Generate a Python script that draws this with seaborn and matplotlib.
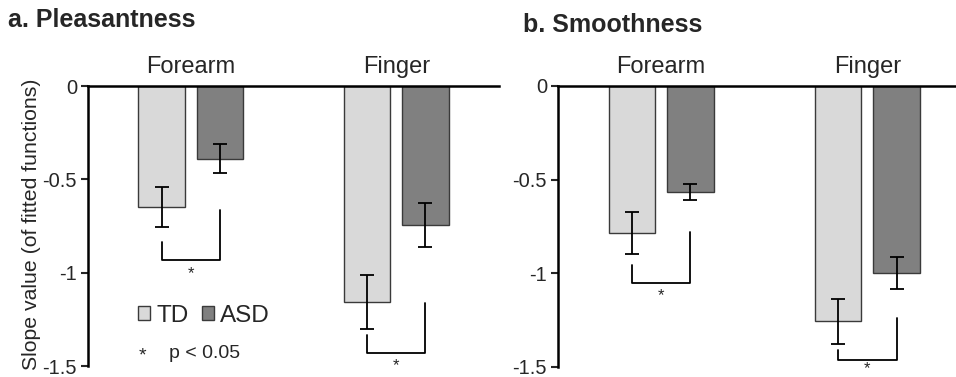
import numpy as np
import pandas as pd
import matplotlib
matplotlib.use("Agg")
import matplotlib.pyplot as plt
from matplotlib.patches import Patch
import seaborn as sns

sns.set_style("white")
plt.rcParams["font.family"] = ["Liberation Sans", "DejaVu Sans"]

# ---------------------------------------------------------------- data
regions = ["Forearm", "Finger"]
groups = ["TD", "ASD"]
colors = {"TD": "#d9d9d9", "ASD": "#808080"}

pleas_td = [-0.648, -1.157]
pleas_td_se = [0.105, 0.145]
pleas_asd = [-0.39, -0.745]
pleas_asd_se = [0.078, 0.117]

smooth_td = [-0.787, -1.257]
smooth_td_se = [0.112, 0.12]
smooth_asd = [-0.567, -1.0]
smooth_asd_se = [0.042, 0.085]

# significance brackets (left top, bottom, right top) and star, one per region
pleas_br_left = [-0.836, -1.334]
pleas_br_bottom = [-0.932, -1.43]
pleas_br_right = [-0.664, -1.162]
pleas_star = [-0.967, -1.46]

smooth_br_left = [-0.953, -1.409]
smooth_br_bottom = [-1.05, -1.462]
smooth_br_right = [-0.777, -1.237]
smooth_star = [-1.079, -1.466]

yticks = [0, -0.5, -1, -1.5]
ytick_labels = ["0", "-0.5", "-1", "-1.5"]


def make_df(td, td_se, asd, asd_se):
    return pd.DataFrame({
        "region": regions * 2,
        "group": ["TD"] * 2 + ["ASD"] * 2,
        "slope": td + asd,
        "se": td_se + asd_se,
    })


def draw_panel(ax, df, br_left, br_bottom, br_right, star_y):
    sns.barplot(data=df, x="region", y="slope", hue="group",
                order=regions, hue_order=groups, palette=colors,
                width=0.566, gap=0.2, errorbar=None,
                edgecolor="#3a3a3a", linewidth=1, legend=False, ax=ax)

    # bars sorted left to right: Forearm TD, Forearm ASD, Finger TD, Finger ASD
    bars = sorted(ax.patches, key=lambda p: p.get_x())
    xs = [b.get_x() + b.get_width() / 2 for b in bars]
    ys = [b.get_y() + b.get_height() for b in bars]
    ordered = df.set_index(["region", "group"])
    se = [ordered.loc[(r, g), "se"] for r in regions for g in groups]
    ax.errorbar(xs, ys, yerr=se, fmt="none", ecolor="black",
                elinewidth=1.3, capsize=5, capthick=1.3)

    for i in range(len(regions)):
        xl, xr = xs[2 * i], xs[2 * i + 1]
        ax.plot([xl, xl, xr, xr],
                [br_left[i], br_bottom[i], br_bottom[i], br_right[i]],
                color="black", lw=1.3, clip_on=False)
        ax.text((xl + xr) / 2, star_y[i], "*", ha="center", va="top",
                fontsize=12, clip_on=False)

    ax.set_ylim(-1.5, 0)
    ax.set_yticks(yticks)
    ax.set_yticklabels(ytick_labels)
    ax.set_xlabel("")
    ax.set_ylabel("")
    ax.xaxis.tick_top()
    ax.tick_params(axis="x", top=True, bottom=False, labeltop=True,
                   labelbottom=False, length=0, pad=6, labelsize=17)
    ax.tick_params(axis="y", left=True, direction="out", length=5,
                   width=1.5, labelsize=14.5, pad=3)
    for side in ["bottom", "right"]:
        ax.spines[side].set_visible(False)
    for side in ["top", "left"]:
        ax.spines[side].set_color("black")
        ax.spines[side].set_linewidth(1.8)


fig = plt.figure(figsize=(9.56, 3.77), dpi=100)
ax1 = fig.add_axes([88 / 956, 11 / 377, 411 / 956, 280 / 377])
ax2 = fig.add_axes([558 / 956, 10 / 377, 398 / 956, 281 / 377])

draw_panel(ax1, make_df(pleas_td, pleas_td_se, pleas_asd, pleas_asd_se),
           pleas_br_left, pleas_br_bottom, pleas_br_right, pleas_star)
ax1.set_xlim(-0.5, 1.5)

draw_panel(ax2, make_df(smooth_td, smooth_td_se, smooth_asd, smooth_asd_se),
           smooth_br_left, smooth_br_bottom, smooth_br_right, smooth_star)
ax2.set_xlim(-0.5, 1.43)

handles = [Patch(facecolor=colors[g], edgecolor="#3a3a3a", label=g) for g in groups]
ax1.legend(handles=handles, loc="upper left", ncol=2, frameon=False,
           bbox_to_anchor=(138 / 956, 1 - 305 / 377), bbox_transform=fig.transFigure,
           borderpad=0, borderaxespad=0, fontsize=17.5,
           handlelength=0.5, handleheight=0.5, handletextpad=0.25,
           columnspacing=0.55)
fig.text(142 / 956, 1 - 356 / 377, "*", ha="center", va="center", fontsize=14)
fig.text(169 / 956, 1 - 353 / 377, "p < 0.05", ha="left", va="center", fontsize=14)

fig.text(8 / 956, 1 - 20 / 377, "a. Pleasantness", fontweight="bold",
         fontsize=18, va="center")
fig.text(523 / 956, 1 - 25 / 377, "b. Smoothness", fontweight="bold",
         fontsize=18, va="center")
fig.text(32 / 956, 1 - 79 / 377, "Slope value (of fitted functions)",
         rotation=90, ha="center", va="top", fontsize=15.3)

fig.savefig("out.png", dpi=100)
